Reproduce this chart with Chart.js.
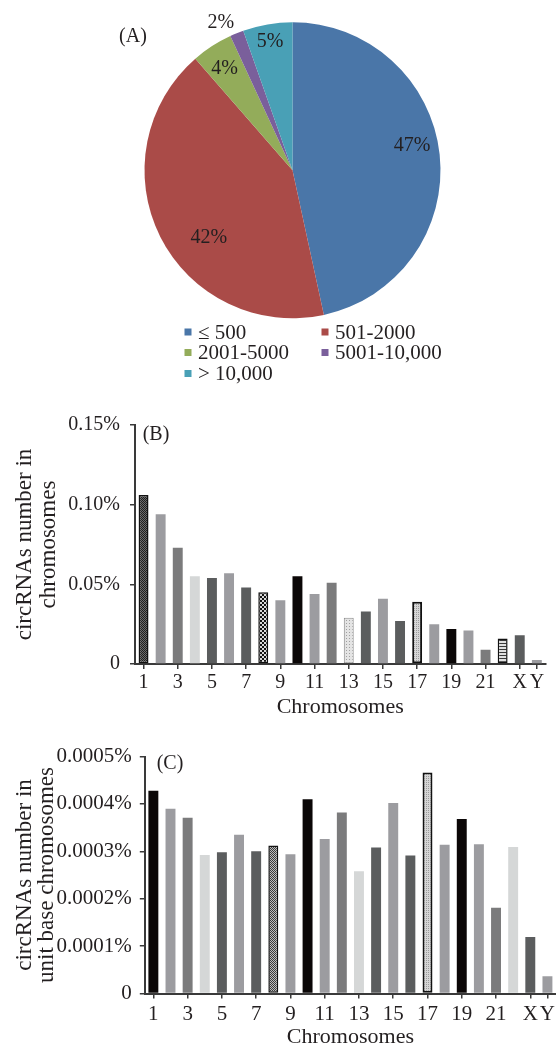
<!DOCTYPE html>
<html><head><meta charset="utf-8">
<script src="https://cdn.jsdelivr.net/npm/chart.js@4.4.1/dist/chart.umd.min.js"></script>
<style>
html,body{margin:0;padding:0;background:#fff;width:556px;height:1043px;overflow:hidden;position:relative}
.box{position:absolute;left:0}
</style></head><body>
<div class="box" style="top:0;width:556px;height:420px"><canvas id="pie"></canvas></div>
<div class="box" style="top:400px;width:556px;height:318px"><canvas id="barB"></canvas></div>
<div class="box" style="top:710px;width:570px;height:344px"><canvas id="barC"></canvas></div>
<script>
// ---- data ----
const sizeBins = ['≤ 500', '501-2000', '2001-5000', '5001-10,000', '> 10,000'];
const sizeShare = [46.6, 42.0, 4.5, 1.5, 5.4];
const sizeShareLabels = ['47%', '42%', '4%', '2%', '5%'];

const categories = ['1','2','3','4','5','6','7','8','9','10','11','12','13','14','15','16','17','18','19','20','21','22','X','Y'];
const tickLabels = ['1','','3','','5','','7','','9','','11','','13','','15','','17','','19','','21','','X','Y'];
const chromPctB = [0.106, 0.094, 0.073, 0.055, 0.054, 0.057, 0.048, 0.045, 0.040, 0.055, 0.044, 0.051,
                   0.029, 0.033, 0.041, 0.027, 0.039, 0.025, 0.022, 0.021, 0.009, 0.016, 0.018, 0.0025];
const chromUnitC = [0.000428, 0.000390, 0.000371, 0.000292, 0.000298, 0.000335, 0.000300, 0.000312,
                    0.000294, 0.000410, 0.000326, 0.000382, 0.000258, 0.000308, 0.000402, 0.000291,
                    0.000466, 0.000314, 0.000368, 0.000315, 0.000181, 0.000309, 0.000119, 0.0000365];
const yTicksB = [0, 0.05, 0.10, 0.15];
const yTicksC = [0, 0.0001, 0.0002, 0.0003, 0.0004, 0.0005];

// ---- styles ----
const F = '"Liberation Serif", "Times New Roman", serif';
const TXT = '#231f20';
const AX = '#3a3a3a';
const pieColors = ['#4A76A8', '#AA4B48', '#93AC5A', '#7A5F9B', '#49A0B6'];
const fillB = ['darkcheck','light','mid','pale','dark','light','dark','check','light','black','light','mid',
               'dots','dark','light','dark','dotsBold','light','black','light','mid','stripes','dark','light'];
const fillC = ['black','light','mid','pale','dark','light','dark','fineCheck','light','black','light','mid',
               'pale','dark','light','dark','dotsBold','light','black','light','mid','pale','dark','light'];

function tile(w, h, draw) {
  const c = document.createElement('canvas'); c.width = w; c.height = h;
  const x = c.getContext('2d'); draw(x);
  return x.createPattern(c, 'repeat');
}
const pat = {
  darkcheck: tile(2, 2, x => { x.fillStyle = '#6a6a6a'; x.fillRect(0,0,2,2); x.fillStyle = '#1e1e1e'; x.fillRect(0,0,1,1); x.fillRect(1,1,1,1); }),
  check: tile(4, 4, x => { x.fillStyle = '#d8d8d8'; x.fillRect(0,0,4,4); x.fillStyle = '#111'; x.fillRect(0,0,2,2); x.fillRect(2,2,2,2); }),
  fineCheck: tile(2, 2, x => { x.fillStyle = '#bdbdbd'; x.fillRect(0,0,2,2); x.fillStyle = '#3a3a3a'; x.fillRect(0,0,1,1); x.fillRect(1,1,1,1); }),
  dots: tile(3, 3, x => { x.fillStyle = '#e4e4e4'; x.fillRect(0,0,3,3); x.fillStyle = '#a0a0a0'; x.fillRect(1,1,1,1); }),
  dotsBold: tile(2, 2, x => { x.fillStyle = '#d6d6d6'; x.fillRect(0,0,2,2); x.fillStyle = '#9a9a9a'; x.fillRect(0,0,1,1); }),
  stripes: tile(3, 3, x => { x.fillStyle = '#e0e0e0'; x.fillRect(0,0,3,3); x.fillStyle = '#3a3a3a'; x.fillRect(0,0,3,1); })
};
const barStyle = {
  black: {bg: '#0b0707', bc: '#0b0707', bw: 0},
  dark:  {bg: '#5b5d5e', bc: '#5b5d5e', bw: 0},
  mid:   {bg: '#7b7b7c', bc: '#7b7b7c', bw: 0},
  light: {bg: '#9c9ca0', bc: '#9c9ca0', bw: 0},
  pale:  {bg: '#d5d7d7', bc: '#d5d7d7', bw: 0},
  darkcheck: {bg: pat.darkcheck, bc: '#111', bw: 1.5},
  check: {bg: pat.check, bc: '#111', bw: 1.5},
  fineCheck: {bg: pat.fineCheck, bc: '#111', bw: 1.5},
  dots: {bg: pat.dots, bc: '#8a8a8a', bw: 1},
  dotsBold: {bg: pat.dotsBold, bc: '#111', bw: 2},
  stripes: {bg: pat.stripes, bc: '#111', bw: 1.5}
};

function panelLabel(text, x, y) {
  return { id: 'panel' + text.replace(/\W/g, ''), afterDraw(chart) {
    const c = chart.ctx; c.save();
    c.font = '20px ' + F; c.fillStyle = TXT; c.textAlign = 'center'; c.textBaseline = 'middle';
    c.fillText(text, x, y); c.restore();
  }};
}

// ---- pie ----
const labelRadial = [0.825, 0.726, 0.828, 1.108, 0.882];
const labelTurnDeg = [-5.5, -12.2, -0.7, -3.8, -0.2];
const pieLabels = { id: 'pieLabels', afterDraw(chart) {
  const c = chart.ctx; const arcs = chart.getDatasetMeta(0).data;
  c.save(); c.font = '20px ' + F; c.fillStyle = TXT; c.textAlign = 'center'; c.textBaseline = 'middle';
  arcs.forEach((a, i) => {
    const mid = (a.startAngle + a.endAngle) / 2 + labelTurnDeg[i] * Math.PI / 180;
    const d = a.outerRadius * labelRadial[i];
    c.fillText(sizeShareLabels[i], a.x + Math.cos(mid) * d, a.y + Math.sin(mid) * d);
  });
  c.restore();
}};
const legendCols = [188, 325];
const legendRows = [332, 352.5, 373.5];
const pieLegend = { id: 'pieLegend', afterDraw(chart) {
  const c = chart.ctx; c.save(); c.font = '21px ' + F; c.textBaseline = 'middle'; c.textAlign = 'left';
  sizeBins.forEach((t, i) => {
    const x = legendCols[i % 2], y = legendRows[Math.floor(i / 2)];
    c.fillStyle = pieColors[i]; c.fillRect(x - 3.5, y - 3.5, 7, 7);
    c.fillStyle = TXT; c.fillText(t, x + 10, y + 1);
  });
  c.restore();
}};
new Chart(document.getElementById('pie'), {
  type: 'pie',
  data: { labels: sizeBins, datasets: [{ data: sizeShare, backgroundColor: pieColors, borderWidth: 0 }] },
  options: {
    responsive: true, maintainAspectRatio: false, animation: false,
    layout: { padding: { left: 144.5, right: 115.5, top: 22.3, bottom: 101.7 } },
    plugins: { legend: { display: false }, tooltip: { enabled: false } }
  },
  plugins: [pieLabels, pieLegend, panelLabel('(A)', 133, 37)]
});

// ---- bars ----
function barChart(id, values, fills, yMax, yStep, yFmt, opts) {
  return new Chart(document.getElementById(id), {
    type: 'bar',
    data: { labels: categories, datasets: [{
      data: values,
      backgroundColor: fills.map(k => barStyle[k].bg),
      borderColor: fills.map(k => barStyle[k].bc),
      borderWidth: fills.map(k => barStyle[k].bw),
      borderSkipped: false,
      barPercentage: 0.58, categoryPercentage: 1
    }]},
    options: {
      responsive: true, maintainAspectRatio: false, animation: false,
      layout: { padding: opts.padding },
      plugins: { legend: { display: false }, tooltip: { enabled: false } },
      scales: {
        x: {
          offset: true,
          grid: { display: true, drawOnChartArea: false, drawTicks: true, tickLength: 5, offset: false,
                  lineWidth: 1.5, color: ctx => tickLabels[ctx.index] ? AX : 'rgba(0,0,0,0)' },
          border: { display: true, color: AX, width: 2 },
          ticks: { autoSkip: false, maxRotation: 0, minRotation: 0, padding: opts.xTickPad, color: TXT,
                   font: { family: F, size: opts.xTickSize }, callback: (v, i) => tickLabels[i] },
          title: { display: true, text: 'Chromosomes', color: TXT,
                   font: { family: F, size: 22, lineHeight: 1 }, padding: { top: 0, bottom: opts.xTitlePad } },
          afterFit: s => { s.height = opts.xHeight; }
        },
        y: {
          min: 0, max: yMax,
          grid: { display: true, drawOnChartArea: false, drawTicks: true, tickLength: 5, lineWidth: 1.5, color: AX },
          border: { display: true, color: AX, width: 2 },
          afterBuildTicks: s => { s.ticks = opts.yTicks.map(v => ({ value: v })); },
          ticks: { padding: opts.yTickPad, color: TXT, font: { family: F, size: opts.yTickSize },
                   callback: v => v === 0 ? '0' : yFmt(v) },
          title: { display: true, text: opts.yTitle, color: TXT,
                   font: { family: F, size: 23, lineHeight: opts.yTitleLH }, padding: { top: opts.yTitlePad, bottom: 0 } },
          afterFit: s => { s.width = opts.yWidth; }
        }
      }
    },
    plugins: [panelLabel(opts.panel[0], opts.panel[1], opts.panel[2])]
  });
}

barChart('barB', chromPctB, fillB, 0.15, 0.05, v => v.toFixed(2) + '%', {
  padding: { top: 25, right: 10.6, left: 0, bottom: 0 },
  xHeight: 54, xTickPad: 2, xTickSize: 20, xTitlePad: 0,
  yTicks: yTicksB, yTickPad: 10, yTickSize: 20, yWidth: 135,
  yTitle: ['circRNAs number in', 'chromosomes'], yTitleLH: 1.05, yTitlePad: 13,
  panel: ['(B)', 156, 35]
});
barChart('barC', chromUnitC, fillC, 0.0005, 0.0001, v => v.toFixed(4) + '%', {
  padding: { top: 46.5, right: 14, left: 0, bottom: 0 },
  xHeight: 60.5, xTickPad: 3, xTickSize: 21, xTitlePad: 6,
  yTicks: yTicksC, yTickPad: 8, yTickSize: 21, yWidth: 144.8,
  yTitle: ['circRNAs number in', 'unit base chromosomes'], yTitleLH: 0.95, yTitlePad: 14,
  panel: ['(C)', 170, 54]
});
</script>
</body></html>
